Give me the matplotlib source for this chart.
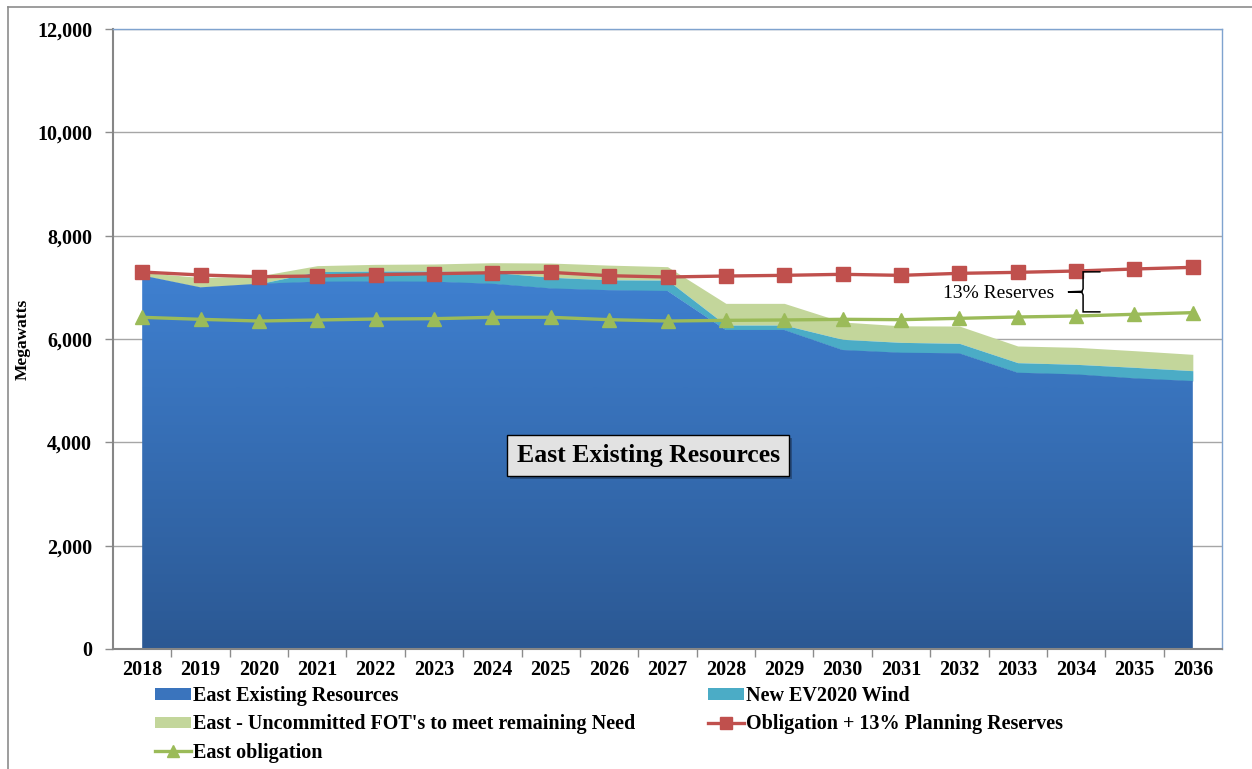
import numpy as np
import matplotlib
matplotlib.use("Agg")
import matplotlib.pyplot as plt
from matplotlib.colors import LinearSegmentedColormap
from matplotlib.path import Path
from matplotlib.patches import PathPatch
from matplotlib.lines import Line2D
from matplotlib.ticker import FuncFormatter, FixedLocator
import matplotlib.patheffects as pe

plt.rcParams["font.family"] = ["Liberation Serif", "DejaVu Serif"]

# ---- data (MW) ----
years = [str(y) for y in range(2018, 2037)]
east_existing = [7230, 7000, 7070, 7110, 7115, 7110, 7070, 6980, 6945, 6930,
                 6175, 6175, 5787, 5735, 5723, 5348, 5316, 5239, 5187]
ev2020_wind = [0, 0, 0, 195, 200, 205, 220, 215, 200, 210,
               95, 95, 207, 200, 193, 194, 194, 213, 200]
uncommitted_fot = [60, 190, 150, 115, 130, 137, 187, 275, 285, 260,
                   420, 420, 335, 320, 335, 323, 329, 322, 316]
obligation_plus_reserves = [7296, 7239, 7206, 7219, 7245, 7264, 7283, 7290, 7225, 7200,
                            7219, 7232, 7252, 7232, 7271, 7290, 7316, 7355, 7387]
east_obligation = [6420, 6381, 6348, 6368, 6387, 6393, 6420, 6420, 6374, 6348,
                   6361, 6368, 6381, 6374, 6400, 6426, 6445, 6478, 6510]

y_ticks = [0, 2000, 4000, 6000, 8000, 10000, 12000]

C_EXIST_TOP = "#3f80d0"
C_EXIST_BOT = "#2b5893"
C_WIND = "#4bacc6"
C_FOT = "#c3d69b"
C_RED = "#c0504d"
C_GREEN = "#9bbb59"

W, H = 1252, 769
fig = plt.figure(figsize=(W / 100, H / 100), dpi=100)
ax = fig.add_axes([113 / W, 1 - 649 / H, (1222 - 113) / W, (649 - 29) / H])

x = np.arange(len(years))
base = np.array(east_existing, float)
top_wind = base + np.array(ev2020_wind, float)
top_fot = top_wind + np.array(uncommitted_fot, float)

# stacked areas
ax.fill_between(x, top_wind, top_fot, color=C_FOT, lw=0, zorder=2)
ax.fill_between(x, base, top_wind, color=C_WIND, lw=0, zorder=2)
exist_poly = ax.fill_between(x, 0, base, color="none", lw=0, zorder=2)

# vertical gradient for the existing-resources area
cmap = LinearSegmentedColormap.from_list("exist", [C_EXIST_BOT, C_EXIST_TOP])
grad = np.linspace(0, 1, 256).reshape(-1, 1)
img = ax.imshow(grad, cmap=cmap, origin="lower", aspect="auto",
                extent=[x[0], x[-1], 0, max(east_existing)], zorder=2.1,
                interpolation="bicubic")
img.set_clip_path(exist_poly.get_paths()[0], transform=ax.transData)

# lines
ax.plot(x, obligation_plus_reserves, color=C_RED, lw=2.4, marker="s", ms=9.5,
        mec=C_RED, mfc=C_RED, zorder=4)
ax.plot(x, east_obligation, color=C_GREEN, lw=2.4, marker="^", ms=10,
        mec=C_GREEN, mfc=C_GREEN, zorder=4)

# axes
ax.set_xlim(-0.5, len(years) - 0.5)
ax.set_ylim(0, 12000)
ax.set_yticks(y_ticks)
ax.yaxis.set_major_formatter(FuncFormatter(lambda v, p: f"{int(v):,}"))
ax.set_xticks(x)
ax.set_xticklabels(years)
ax.xaxis.set_minor_locator(FixedLocator(np.arange(0.5, len(years) - 0.5, 1.0)))
ax.tick_params(axis="x", which="major", length=0, pad=8)
ax.tick_params(axis="x", which="minor", length=6, color="#8c8c8c", width=1)
ax.tick_params(axis="y", length=6, color="#8c8c8c", width=1, pad=9)
for lab in ax.get_xticklabels() + ax.get_yticklabels():
    lab.set_fontweight("bold")
    lab.set_fontsize(14.5)

ax.grid(axis="y", color="#a6a6a6", lw=1, zorder=0)
ax.set_axisbelow(True)
for side in ("left", "bottom"):
    ax.spines[side].set_color("#868686")
    ax.spines[side].set_linewidth(1.5)
for side in ("top", "right"):
    ax.spines[side].set_color("#7fa3cf")
    ax.spines[side].set_linewidth(1.0)

ax.set_ylabel("Megawatts", fontsize=12.5, fontweight="bold")
ax.yaxis.set_label_coords(-0.0745, 0.5)

# in-chart label with drop shadow
lbl = ax.text(8.67, 3745, "East Existing Resources", ha="center", va="center",
              fontsize=18.5, fontweight="bold", zorder=6,
              bbox=dict(boxstyle="square,pad=0.36", facecolor="#e2e2e2",
                        edgecolor="black", lw=1.0))
lbl.get_bbox_patch().set_path_effects(
    [pe.SimplePatchShadow(offset=(2, -2), shadow_rgbFace="#1a2f50", alpha=0.5), pe.Normal()])

# reserve margin brace
ax.text(14.67, 6885, "13% Reserves", ha="center", va="center", fontsize=14, zorder=6)
bx, bt, bb = 16.12, 7300, 6525
bm = (bt + bb) / 2
verts = [(16.42, bt), (bx, bt), (bx, bm + 60), (bx - 0.02, bm + 10), (bx - 0.26, bm),
         (bx - 0.02, bm - 10), (bx, bm - 60), (bx, bb), (16.42, bb)]
codes = [Path.MOVETO] + [Path.LINETO] * 8
ax.add_patch(PathPatch(Path(verts, codes), fill=False, lw=1.1, color="black", zorder=6))

# legend
handles = [
    plt.Rectangle((0, 0), 1, 1, facecolor="#3a74bd", edgecolor="none"),
    plt.Rectangle((0, 0), 1, 1, facecolor=C_FOT, edgecolor="none"),
    Line2D([], [], color=C_GREEN, lw=2.4, marker="^", ms=8),
    plt.Rectangle((0, 0), 1, 1, facecolor=C_WIND, edgecolor="none"),
    Line2D([], [], color=C_RED, lw=2.4, marker="s", ms=8),
]
labels = ["East Existing Resources",
          "East - Uncommitted FOT's to meet remaining Need",
          "East obligation",
          "New EV2020 Wind",
          "Obligation + 13% Planning Reserves"]
leg = fig.legend(handles, labels, loc="upper left", bbox_to_anchor=(155 / W, 1 - 686 / H),
                 ncol=2, frameon=False, prop={"weight": "bold", "size": 14.5},
                 handlelength=1.8, handleheight=0.5, handletextpad=0.1,
                 columnspacing=3.6, labelspacing=0.42, borderaxespad=0, borderpad=0)

# outer chart frame
fig.add_artist(Line2D([8 / W, 8 / W], [0, 1 - 7 / H], transform=fig.transFigure,
                      color="#8c8c8c", lw=1.2))
fig.add_artist(Line2D([8 / W, 1], [1 - 7 / H, 1 - 7 / H], transform=fig.transFigure,
                      color="#8c8c8c", lw=1.2))

fig.savefig("out.png", dpi=100)
